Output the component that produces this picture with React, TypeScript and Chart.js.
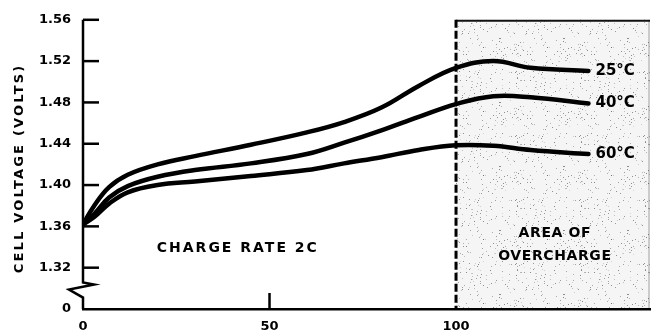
import React, { useEffect, useRef } from 'react';
import { Chart, registerables } from 'chart.js';

Chart.register(...registerables);

// ---- data ----
const timeMin = [0, 3, 7, 12, 20, 30, 45, 60, 70, 80, 90, 100, 110, 120, 135.5];
const volts25 = [1.362, 1.380, 1.398, 1.410, 1.420, 1.428, 1.439, 1.451, 1.461, 1.475, 1.496, 1.5135, 1.520, 1.5135, 1.5105];
const volts40 = [1.362, 1.372, 1.388, 1.399, 1.408, 1.4145, 1.421, 1.430, 1.441, 1.453, 1.466, 1.4784, 1.486, 1.485, 1.479];
const volts60 = [1.362, 1.369, 1.382, 1.393, 1.400, 1.4035, 1.4088, 1.4145, 1.421, 1.427, 1.434, 1.4385, 1.438, 1.434, 1.430];
const seriesLabels = ['25°C', '40°C', '60°C'];

const yTicks = [1.28, 1.32, 1.36, 1.40, 1.44, 1.48, 1.52, 1.56];
const yTickLabels = ['0', '1.32', '1.36', '1.40', '1.44', '1.48', '1.52', '1.56'];
const xTicks = [0, 50, 100];
const xTickLabels = ['0', '50', '100'];
const xMax = 152;
const yMin = 1.28;
const yMax = 1.56;
const overchargeStart = 100;

const yTitle = 'CELL VOLTAGE (VOLTS)';
const chargeRateText = 'CHARGE RATE 2C';
const chargeRatePos = [41.5, 1.339];
const overchargeLines = ['AREA OF', 'OVERCHARGE'];
const overchargePos = [[126.5, 1.353], [126.5, 1.331]];

const FONT = '"DejaVu Sans", sans-serif';

function makeSpecklePattern(ctx: CanvasRenderingContext2D) {
  const c = document.createElement('canvas');
  c.width = 64;
  c.height = 64;
  const p = c.getContext('2d')!;
  p.fillStyle = 'rgba(0,0,0,0.04)';
  p.fillRect(0, 0, 64, 64);
  let s = 24681;
  const next = () => {
    s = (s * 1103515245 + 12345) % 2147483648;
    return s / 2147483648;
  };
  for (let i = 0; i < 160; i++) {
    const x = Math.floor(next() * 64);
    const y = Math.floor(next() * 64);
    const a = 0.12 + next() * 0.35;
    p.fillStyle = `rgba(0,0,0,${a.toFixed(2)})`;
    p.fillRect(x, y, 1, 1);
  }
  return ctx.createPattern(c, 'repeat');
}

function setSpacing(ctx: any, px: number) {
  try {
    ctx.letterSpacing = px + 'px';
  } catch (e) {
    /* ignore */
  }
}

const decorPlugin = {
  id: 'decor',
  beforeDatasetsDraw(chart: any) {
    const { ctx, chartArea, scales } = chart;
    const xs = scales.x;
    const ys = scales.y;
    const x0 = xs.getPixelForValue(overchargeStart);
    ctx.save();
    // shaded overcharge area
    const pat = makeSpecklePattern(ctx);
    ctx.fillStyle = pat || 'rgba(0,0,0,0.06)';
    ctx.fillRect(x0, chartArea.top, chartArea.right - x0, chartArea.bottom - chartArea.top);
    // top border of area
    ctx.strokeStyle = '#111';
    ctx.lineWidth = 2;
    ctx.beginPath();
    ctx.moveTo(x0, chartArea.top + 1);
    ctx.lineTo(chartArea.right, chartArea.top + 1);
    ctx.stroke();
    // right border (faint)
    ctx.strokeStyle = 'rgba(0,0,0,0.35)';
    ctx.lineWidth = 1;
    ctx.beginPath();
    ctx.moveTo(chartArea.right - 1, chartArea.top);
    ctx.lineTo(chartArea.right - 1, chartArea.bottom);
    ctx.stroke();
    // dashed line at 100
    ctx.strokeStyle = '#000';
    ctx.lineWidth = 3;
    ctx.setLineDash([8, 3]);
    ctx.beginPath();
    ctx.moveTo(x0, chartArea.top);
    ctx.lineTo(x0, chartArea.bottom);
    ctx.stroke();
    ctx.setLineDash([]);

    // y axis with break
    const ax = chartArea.left;
    const y132 = ys.getPixelForValue(1.32);
    const ybot = chartArea.bottom;
    const gap = ybot - y132;
    const b1 = y132 + gap * 0.36;
    ctx.lineWidth = 2.5;
    ctx.strokeStyle = '#000';
    ctx.lineJoin = 'miter';
    ctx.beginPath();
    ctx.moveTo(ax, chartArea.top);
    ctx.lineTo(ax, b1);
    ctx.lineTo(ax + 11, b1 + 2);
    ctx.lineTo(ax - 14, b1 + 7);
    ctx.lineTo(ax, b1 + 15);
    ctx.lineTo(ax, ybot);
    ctx.stroke();

    // inward y ticks
    ctx.lineWidth = 2.5;
    for (const v of yTicks) {
      if (v === yMin) continue;
      const py = ys.getPixelForValue(v);
      ctx.beginPath();
      ctx.moveTo(ax, py);
      ctx.lineTo(ax + 16, py);
      ctx.stroke();
    }
    // inward x ticks
    for (const v of xTicks) {
      if (v === 0 || v === overchargeStart) continue;
      const px = xs.getPixelForValue(v);
      ctx.beginPath();
      ctx.moveTo(px, ybot);
      ctx.lineTo(px, ybot - 16);
      ctx.stroke();
    }

    // y title
    ctx.fillStyle = '#000';
    ctx.font = `bold 13px ${FONT}`;
    setSpacing(ctx, 2.2);
    ctx.textAlign = 'center';
    ctx.textBaseline = 'middle';
    ctx.translate(20, (chartArea.top + chartArea.bottom) / 2 + 5);
    ctx.rotate(-Math.PI / 2);
    ctx.fillText(yTitle, 1, 0);
    ctx.restore();
  },
  afterDatasetsDraw(chart: any) {
    const { ctx, scales } = chart;
    const xs = scales.x;
    const ys = scales.y;
    ctx.save();
    ctx.fillStyle = '#000';
    ctx.textBaseline = 'middle';
    ctx.font = `bold 14px ${FONT}`;
    ctx.textAlign = 'center';
    setSpacing(ctx, 2);
    ctx.fillText(chargeRateText, xs.getPixelForValue(chargeRatePos[0]), ys.getPixelForValue(chargeRatePos[1]));
    setSpacing(ctx, 0.6);
    overchargeLines.forEach((t, i) => {
      ctx.fillText(t, xs.getPixelForValue(overchargePos[i][0]), ys.getPixelForValue(overchargePos[i][1]));
    });
    setSpacing(ctx, 0);
    ctx.textAlign = 'left';
    ctx.font = `bold 15px ${FONT}`;
    const all = [volts25, volts40, volts60];
    all.forEach((arr, i) => {
      const lx = xs.getPixelForValue(timeMin[timeMin.length - 1]) + 7;
      const ly = ys.getPixelForValue(arr[arr.length - 1]);
      ctx.fillText(seriesLabels[i], lx, ly);
    });
    ctx.restore();
  },
};

export default function App() {
  const ref = useRef<HTMLCanvasElement | null>(null);
  useEffect(() => {
    if (!ref.current) return;
    const mk = (arr: number[], label: string) => ({
      label,
      data: timeMin.map((t, i) => ({ x: t, y: arr[i] })),
      borderColor: '#000',
      borderWidth: 4.5,
      pointRadius: 0,
      fill: false,
      tension: 0.4,
      borderCapStyle: 'round' as const,
    });
    const chart = new Chart(ref.current, {
      type: 'line',
      data: {
        datasets: [mk(volts25, seriesLabels[0]), mk(volts40, seriesLabels[1]), mk(volts60, seriesLabels[2])],
      },
      options: {
        animation: false,
        responsive: false,
        maintainAspectRatio: false,
        layout: { padding: { top: 14, right: 6, left: 0, bottom: 0 } },
        plugins: { legend: { display: false }, tooltip: { enabled: false }, title: { display: false } },
        scales: {
          x: {
            type: 'linear',
            min: 0,
            max: xMax,
            afterBuildTicks: (s: any) => {
              s.ticks = xTicks.map((v) => ({ value: v }));
            },
            afterFit: (s: any) => {
              s.height = 27;
            },
            grid: { display: false, drawTicks: false },
            border: { display: true, color: '#000', width: 2.5 },
            ticks: {
              padding: 10,
              color: '#000',
              font: { family: FONT, size: 13, weight: 'bold' },
              maxRotation: 0,
              callback: (v: any) => {
                const i = xTicks.indexOf(Number(v));
                return i >= 0 ? xTickLabels[i] : '';
              },
            },
          },
          y: {
            type: 'linear',
            min: yMin,
            max: yMax,
            afterBuildTicks: (s: any) => {
              s.ticks = yTicks.map((v) => ({ value: v }));
            },
            afterFit: (s: any) => {
              s.width = 83;
            },
            grid: { display: false, drawTicks: false },
            border: { display: false },
            ticks: {
              padding: 12,
              color: '#000',
              font: { family: FONT, size: 13, weight: 'bold' },
              callback: (v: any) => {
                const i = yTicks.findIndex((t) => Math.abs(t - Number(v)) < 1e-6);
                return i >= 0 ? yTickLabels[i] : '';
              },
            },
          },
        },
      },
      plugins: [decorPlugin],
    });
    return () => chart.destroy();
  }, []);
  return (
    <div style={{ position: 'absolute', left: 0, top: 0, width: 656, height: 336, background: '#fff' }}>
      <canvas ref={ref} width={656} height={336} />
    </div>
  );
}
